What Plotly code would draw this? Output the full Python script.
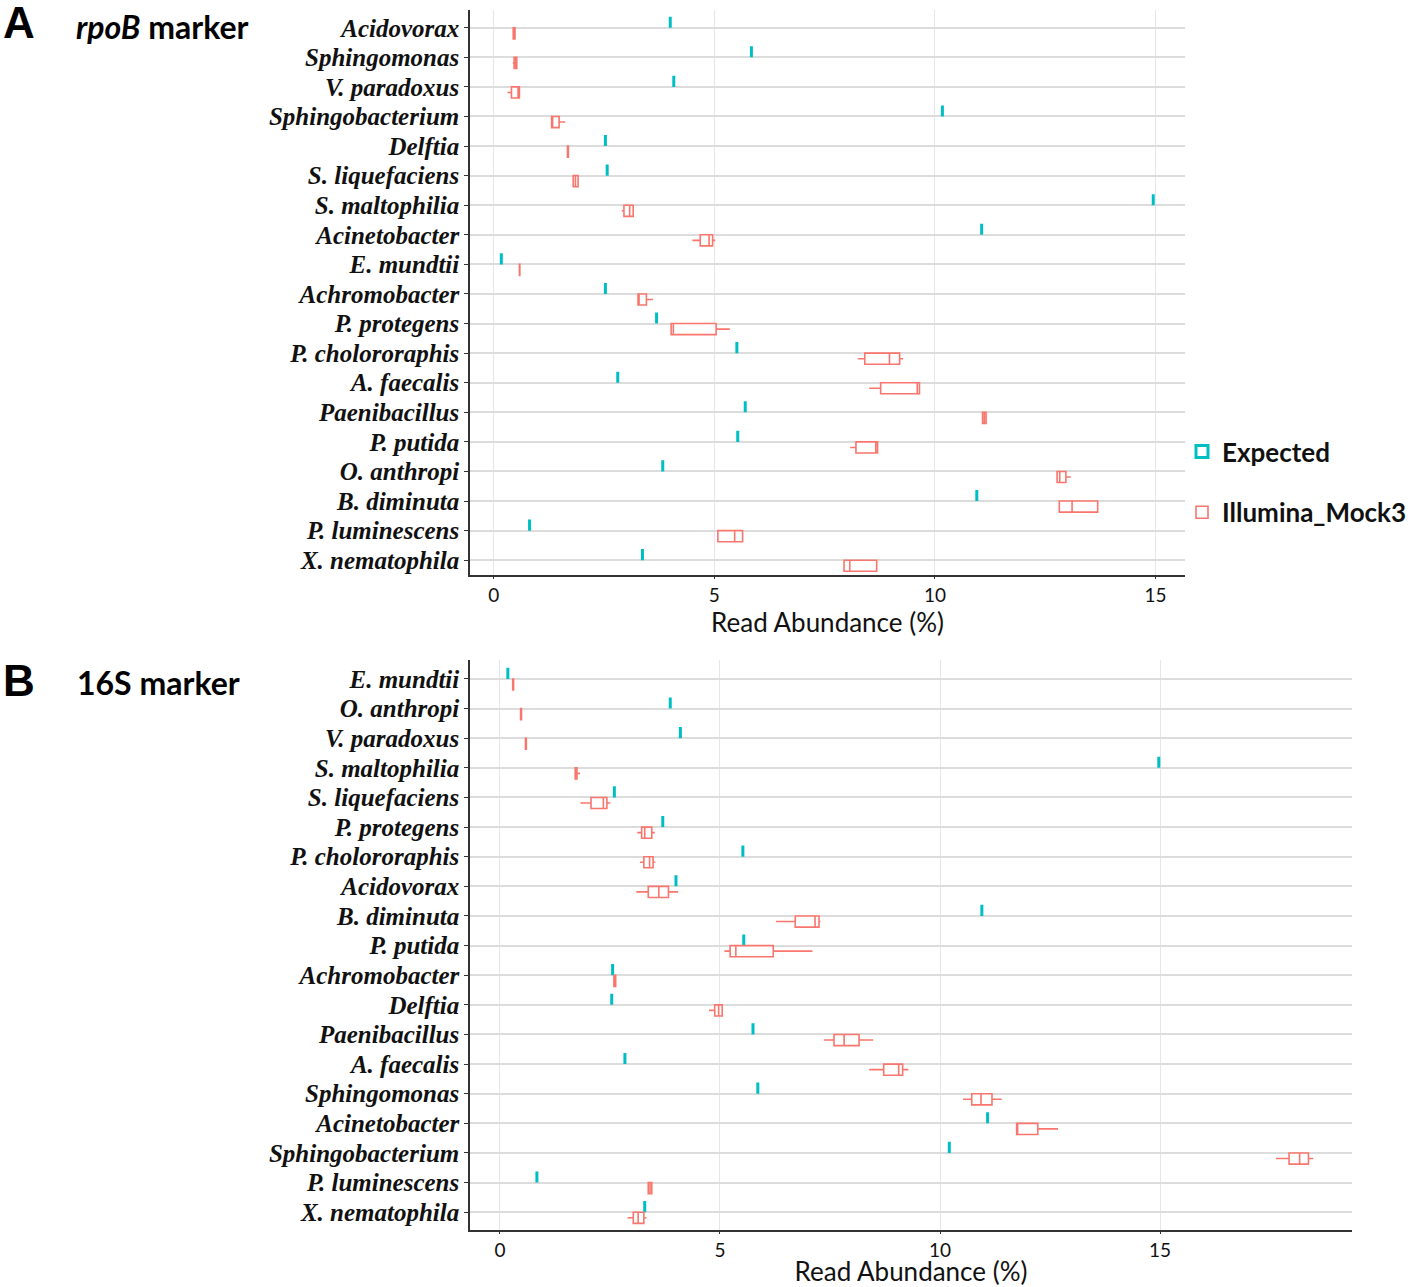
import plotly.graph_objects as go

# ---------------- Panel A: rpoB marker ----------------
cats_a = ["Acidovorax", "Sphingomonas", "V. paradoxus", "Sphingobacterium", "Delftia",
          "S. liquefaciens", "S. maltophilia", "Acinetobacter", "E. mundtii", "Achromobacter",
          "P. protegens", "P. cholororaphis", "A. faecalis", "Paenibacillus", "P. putida",
          "O. anthropi", "B. diminuta", "P. luminescens", "X. nematophila"]
expected_a = [4.00, 5.84, 4.08, 10.17, 2.53, 2.57, 14.95, 11.06, 0.17, 2.53,
              3.69, 5.51, 2.81, 5.70, 5.53, 3.83, 10.95, 0.81, 3.37]
ill_a_low = [0.43, 0.43, 0.31, 1.31, 1.66, 1.80, 2.90, 4.50, 0.57, 3.27,
             4.02, 8.25, 8.51, 11.06, 8.08, 12.77, 12.82, 5.08, 7.94]
ill_a_q1 = [0.44, 0.46, 0.40, 1.31, 1.67, 1.80, 2.95, 4.68, 0.58, 3.27,
            4.02, 8.41, 8.77, 11.08, 8.21, 12.77, 12.82, 5.08, 7.94]
ill_a_med = [0.46, 0.50, 0.55, 1.33, 1.68, 1.85, 3.08, 4.88, 0.58, 3.29,
             4.07, 8.97, 9.60, 11.12, 8.66, 12.83, 13.11, 5.46, 8.07]
ill_a_q3 = [0.48, 0.52, 0.58, 1.48, 1.69, 1.91, 3.16, 4.96, 0.59, 3.46,
            5.04, 9.20, 9.65, 11.16, 8.70, 12.97, 13.69, 5.64, 8.68]
ill_a_high = [0.49, 0.53, 0.58, 1.62, 1.70, 1.91, 3.16, 5.02, 0.60, 3.61,
              5.35, 9.28, 9.65, 11.17, 8.70, 13.08, 13.69, 5.64, 8.68]

# ---------------- Panel B: 16S marker ----------------
cats_b = ["E. mundtii", "O. anthropi", "V. paradoxus", "S. maltophilia", "S. liquefaciens",
          "P. protegens", "P. cholororaphis", "Acidovorax", "B. diminuta", "P. putida",
          "Achromobacter", "Delftia", "Paenibacillus", "A. faecalis", "Sphingomonas",
          "Acinetobacter", "Sphingobacterium", "P. luminescens", "X. nematophila"]
expected_b = [0.18, 3.87, 4.10, 14.97, 2.60, 3.70, 5.52, 4.00, 10.95, 5.54,
              2.56, 2.54, 5.75, 2.84, 5.86, 11.08, 10.21, 0.84, 3.29]
ill_b_low = [0.28, 0.46, 0.57, 1.70, 1.83, 3.12, 3.18, 3.10, 6.27, 5.10,
             2.58, 4.75, 7.36, 8.39, 10.52, 11.74, 17.63, 3.36, 2.90]
ill_b_q1 = [0.29, 0.47, 0.58, 1.71, 2.07, 3.22, 3.27, 3.37, 6.71, 5.23,
            2.59, 4.88, 7.59, 8.72, 10.72, 11.74, 17.93, 3.37, 3.03]
ill_b_med = [0.30, 0.48, 0.59, 1.73, 2.35, 3.29, 3.40, 3.61, 7.16, 5.36,
             2.61, 4.97, 7.82, 9.06, 10.93, 11.76, 18.17, 3.41, 3.14]
ill_b_q3 = [0.31, 0.49, 0.60, 1.75, 2.43, 3.45, 3.48, 3.83, 7.25, 6.21,
            2.63, 5.05, 8.16, 9.15, 11.18, 12.22, 18.37, 3.45, 3.27]
ill_b_high = [0.32, 0.50, 0.61, 1.82, 2.51, 3.52, 3.53, 4.05, 7.28, 7.10,
              2.64, 5.05, 8.48, 9.28, 11.40, 12.68, 18.48, 3.46, 3.33]

x_ticks = [0, 5, 10, 15]

TEAL = "#00BFC4"
RED = "#F8766D"
W, H = 1417, 1287

fig = go.Figure()


def add_panel(cats, expected, low, q1, med, q3, high, xa, ya, show, grp):
    fig.add_trace(go.Box(
        y=cats, q1=expected, median=expected, q3=expected,
        lowerfence=expected, upperfence=expected,
        orientation="h", name="Expected", legendgroup="exp", showlegend=show,
        alignmentgroup=grp, offsetgroup="exp",
        line=dict(color=TEAL, width=3), fillcolor="white", whiskerwidth=0,
        boxpoints=False, xaxis=xa, yaxis=ya))
    fig.add_trace(go.Box(
        y=cats, q1=q1, median=med, q3=q3, lowerfence=low, upperfence=high,
        orientation="h", name="Illumina_Mock3", legendgroup="ill", showlegend=show,
        alignmentgroup=grp, offsetgroup="ill",
        line=dict(color=RED, width=1.6), fillcolor="white", whiskerwidth=0,
        boxpoints=False, xaxis=xa, yaxis=ya))


add_panel(cats_a, expected_a, ill_a_low, ill_a_q1, ill_a_med, ill_a_q3, ill_a_high, "x", "y", True, "A")
add_panel(cats_b, expected_b, ill_b_low, ill_b_q1, ill_b_med, ill_b_q3, ill_b_high, "x2", "y2", False, "B")


def px_x(p):
    return p / W


def px_y(p):
    return 1 - p / H


xcommon = dict(
    showgrid=True, gridcolor="#E6E6E6", gridwidth=1, zeroline=False,
    showline=True, linecolor="#333333", linewidth=1.5,
    ticks="outside", ticklen=2, tickcolor="#333333",
    tickmode="array", tickvals=x_ticks, ticktext=[str(t) for t in x_ticks],
    tickfont=dict(family="Lato", size=19, color="#111111"),
    title=dict(text="Read Abundance (%)", font=dict(family="Lato", size=26, color="#111111"),
               standoff=3),
)
ycommon = dict(
    type="category", showgrid=True, gridcolor="#DCDCDC", gridwidth=2, zeroline=False,
    showline=True, linecolor="#333333", linewidth=1.5,
    ticks="outside", ticklen=4, tickcolor="#333333",
    tickfont=dict(family="Liberation Serif", size=25, color="#111111", weight="bold", style="italic"),
)

fig.update_layout(
    width=W, height=H,
    margin=dict(l=0, r=0, t=0, b=0),
    paper_bgcolor="white", plot_bgcolor="white",
    boxmode="group", boxgap=0.25, boxgroupgap=0,
    xaxis=dict(xcommon, domain=[px_x(470), px_x(1185)], range=[-0.54, 15.67], anchor="y"),
    yaxis=dict(ycommon, domain=[px_y(575), px_y(10)], anchor="x",
               categoryorder="array", categoryarray=cats_a, range=[18.5, -0.6],
               tickmode="array", tickvals=cats_a, ticktext=cats_a),
    xaxis2=dict(xcommon, domain=[px_x(470), px_x(1352)], range=[-0.68, 19.36], anchor="y2"),
    yaxis2=dict(ycommon, domain=[px_y(1230), px_y(660)], anchor="x2",
                categoryorder="array", categoryarray=cats_b, range=[18.6, -0.64],
                tickmode="array", tickvals=cats_b, ticktext=cats_b),
    legend=dict(x=px_x(1182), y=px_y(428), xanchor="left", yanchor="top",
                font=dict(family="Lato", size=26, color="#111111", weight="bold"),
                tracegroupgap=24, bgcolor="rgba(0,0,0,0)", itemwidth=30),
    showlegend=True,
)

annos = [
    dict(text="<b>A</b>", x=px_x(1), y=px_y(23), xanchor="left", yanchor="middle",
         font=dict(family="Liberation Sans", size=44, color="black")),
    dict(text="<b><i>rpoB</i> marker</b>", x=px_x(74), y=px_y(27), xanchor="left", yanchor="middle",
         font=dict(family="Lato", size=32, color="black")),
    dict(text="<b>B</b>", x=px_x(1), y=px_y(680), xanchor="left", yanchor="middle",
         font=dict(family="Liberation Sans", size=44, color="black")),
    dict(text="<b>16S marker</b>", x=px_x(75), y=px_y(682), xanchor="left", yanchor="middle",
         font=dict(family="Lato", size=32, color="black")),
]
for a in annos:
    fig.add_annotation(xref="paper", yref="paper", showarrow=False, **a)

fig.write_html("out.html", config={"displayModeBar": False},
               post_script="document.body.style.margin='0';")
